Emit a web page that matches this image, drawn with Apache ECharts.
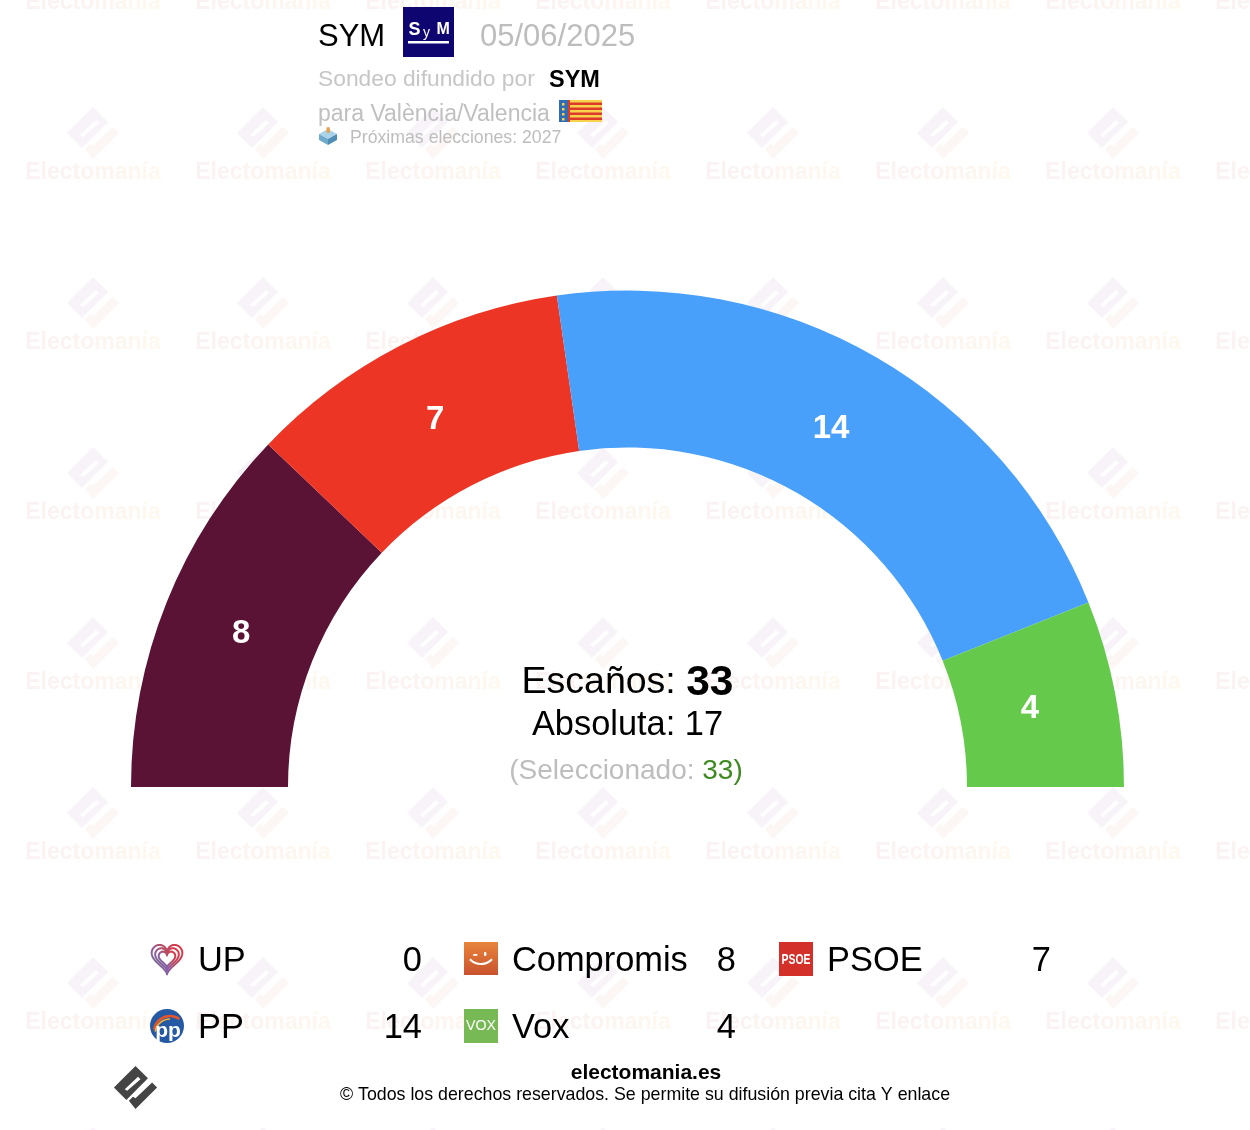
<!DOCTYPE html>
<html><head><meta charset="utf-8">
<style>html,body{margin:0;padding:0;background:#fff}#c{width:1250px;height:1130px}</style>
<script src="https://cdn.jsdelivr.net/npm/echarts@6/dist/echarts.min.js"></script>
</head><body><div id="c"></div>
<script>
const parties = ['UP','Compromis','PSOE','PP','Vox'];
const seats = [0,8,7,14,4];
const partyColors = ['#7b2d6b','#5a1335','#ec3524','#48a0fa','#65ca4c'];
const pollster = 'SYM';
const pollDate = '05/06/2025';
const totalSeats = 33;
const majority = 17;
const selected = 33;

const FONT = '"Liberation Sans", Helvetica, Arial, sans-serif';
const g = [];
const txt = (x,y,text,size,fill,opt={}) => Object.assign({type:'text',x,y,z:opt.z??5,style:Object.assign({text,fill,
  font:`${opt.bold?'bold ':''}${size}px ${opt.family||FONT}`,
  textAlign:opt.align||'left',textVerticalAlign:'middle',textBaseline:'middle'},opt.style||{})},opt.el||{});
const poly = (points,fill,z=1) => ({type:'polygon',z,shape:{points},style:{fill}});
const rect = (x,y,width,height,fill,z=5,r=0) => ({type:'rect',z,shape:{x,y,width,height,r},style:{fill}});

/* Electomania logo, unit origin = its centre */
function logo(cx,cy,s,cBody,cHook,cHole,z){
  const P = a => a.map(p=>[cx+p[0]*s,cy+p[1]*s]);
  g.push(poly(P([[0,-26],[15,-11],[-11,15],[-26,0]]),cBody,z));
  g.push(poly(P([[3,-13],[6,-10],[-10,4],[-13,2]]),cHole,z));
  g.push(poly(P([[-8,16],[0,26],[26,0],[20,-6],[0,13],[-3,11]]),cHook,z));
}
/* watermark tiles */
const wmWord = 'Electomanía';
const wmColors = ['#fbf3f3','#fbf3f2','#fbf3f2','#fbf3f1','#fcf4f1','#fcf4f0','#fdf5f0','#fdf6ef','#fef7ef','#fef7ee','#fff8ee'];
const wmRich = {};
wmColors.forEach((c,i)=>{wmRich['c'+i]={font:'bold 23px '+FONT,fill:c,color:c};});
const wmText = wmWord.split('').map((ch,i)=>'{c'+i+'|'+ch+'}').join('');
for(let i=0;i<8;i++)for(let j=-1;j<7;j++){
  const x=93+170*i, y=133+170*j;
  logo(x,y,1,'#f7f3f9','#fcf6f4','#ffffff',0);
  g.push({type:'text',x,y:y+40,z:0,style:{text:wmText,rich:wmRich,textAlign:'center',textVerticalAlign:'middle',textBaseline:'middle'}});
}
/* header */
g.push(txt(318,37.5,pollster,31,'#000'));
g.push(rect(403,7,51,50,'#0f0570'));
g.push(txt(408.5,30,'S',18,'#fff',{bold:true,z:6}));
g.push(txt(423,33,'y',14,'#fff',{z:6}));
g.push(txt(436.5,29.5,'M',16,'#fff',{bold:true,z:6}));
g.push(rect(408,41,41,2.5,'#fff',6));
g.push(txt(480,37.5,pollDate,31,'#bdbdbd'));
g.push(txt(318,80,'Sondeo difundido por',22.8,'#c6c6c6'));
g.push(txt(549,81,pollster,23.5,'#000',{bold:true}));
g.push(txt(318,115,'para València/Valencia',23,'#c0c0c0'));
g.push(rect(559,100,43,22,'#f8d24a'));
for(let k=0;k<4;k++) g.push(rect(568,102.5+k*5,34,2.4,'#dc3b2c',6));
g.push(rect(559,100,9,22,'#2f6db5',7));
g.push(rect(568,100,2,22,'#dc3b2c',7));
[103,108,113,118].forEach(y=>g.push(rect(562,y,2.5,2.5,'#f8d24a',8)));
g.push(poly([[328,129],[337,134],[328,139],[319,134]],'#a9d3e8',5));
g.push(poly([[319,134],[328,139],[328,145],[319,140]],'#6fa9cc',5));
g.push(poly([[337,134],[328,139],[328,145],[337,140]],'#4f8db5',5));
g.push(rect(326.5,127,3.4,6,'#e8a04c',6,1.5));
g.push(txt(350,138.5,'Próximas elecciones: 2027',17.7,'#bdbdbd'));

/* centre text */
g.push({type:'text',x:627.5,y:683,z:5,style:{text:'{a|Escaños: }{b|'+totalSeats+'}',textAlign:'center',textVerticalAlign:'middle',textBaseline:'middle',
  rich:{a:{font:'37.5px '+FONT,fill:'#000',color:'#000'},b:{font:'bold 42.5px '+FONT,fill:'#000',color:'#000'}}}});
g.push(txt(627.5,726,'Absoluta: '+majority,34.4,'#000',{align:'center'}));
g.push({type:'text',x:626,y:771,z:5,style:{text:'{a|(Seleccionado: }{b|'+selected+'}{c|)}',textAlign:'center',textVerticalAlign:'middle',textBaseline:'middle',
  rich:{a:{font:'28px '+FONT,fill:'#bdbdbd',color:'#bdbdbd'},b:{font:'28px '+FONT,fill:'#3f8a22',color:'#3f8a22'},c:{font:'28px '+FONT,fill:'#3f8a22',color:'#3f8a22'}}}});

/* legend icons */
const heartPts = (cx,cy,s)=>{const a=[];for(let i=0;i<60;i++){const t=i/60*2*Math.PI;
  a.push([cx+s*16*Math.pow(Math.sin(t),3),cy-s*1.06*(13*Math.cos(t)-5*Math.cos(2*t)-2*Math.cos(3*t)-Math.cos(4*t))]);}return a;};
const icons = [
 (x,y)=>{const gr2={type:'linear',x:0,y:1,x2:1,y2:.2,colorStops:[{offset:0,color:'#5fa84a'},{offset:.4,color:'#8a5aa8'},{offset:.62,color:'#b0506a'},{offset:1,color:'#e6323f'}]};
   [.96,.74,.52].forEach(s=>g.push({type:'polygon',z:5,shape:{points:heartPts(x,y+.5-2.6*s,s)},style:{fill:'none',stroke:gr2,lineWidth:2,lineJoin:'round'}}));},
 (x,y)=>{g.push({type:'rect',z:5,shape:{x:x-17,y:y-17,width:34,height:33},style:{fill:{type:'linear',x:0,y:0,x2:0,y2:1,colorStops:[{offset:0,color:'#e8843c'},{offset:1,color:'#c9522e'}]}}});
   g.push({type:'arc',z:6,shape:{cx:x,cy:y-10,r:15,startAngle:.75,endAngle:Math.PI-.75},style:{stroke:'#fff',lineWidth:2,fill:'none'}});
   g.push(rect(x-8,y-5,4.5,1.8,'#fff',6,1));g.push(rect(x+3,y-7,2.4,4,'#fff',6,1));},
 (x,y)=>{g.push(rect(x-17,y-17,34,34,'#d4302a'));g.push(txt(x,y+.5,'PSOE',14.5,'#fff',{bold:true,align:'center',z:6,el:{scaleX:.72}}));},
 (x,y)=>{g.push({type:'circle',z:5,shape:{cx:x,cy:y,r:17},style:{fill:'#2559a3'}});
   g.push({type:'arc',z:6,shape:{cx:x+3,cy:y+6,r:16,startAngle:Math.PI*1.05,endAngle:Math.PI*1.7},style:{stroke:'#e8552b',lineWidth:2.5,fill:'none'}});
   g.push({type:'arc',z:6,shape:{cx:x+3,cy:y+8,r:15,startAngle:Math.PI*1.05,endAngle:Math.PI*1.5},style:{stroke:'#f4b63a',lineWidth:1.5,fill:'none'}});
   g.push(txt(x+1,y+5,'pp',21,'#fff',{bold:true,align:'center',z:7}));},
 (x,y)=>{g.push(rect(x-17,y-17,34,34,'#77ba55'));g.push(txt(x,y,'VOX',15,'#fff',{align:'center',z:6,el:{scaleX:.95}}));}
];
const colX=[167,481,796], rowY=[959,1026];
parties.forEach((p,i)=>{
  const c=i%3, r=Math.floor(i/3), x=colX[c], y=rowY[r];
  icons[i](x,y);
  g.push(txt(x+31,y+3,p,34.4,'#000'));
  g.push(txt(x+255,y+3,String(seats[i]),34.4,'#000',{align:'right'}));
});
/* footer */
logo(135.5,1087.5,.83,'#444444','#444444','#ffffff',5);
g.push(txt(646,1073,'electomania.es',21,'#000',{bold:true,align:'center'}));
g.push(txt(645,1095,'© Todos los derechos reservados. Se permite su difusión previa cita Y enlace',17.8,'#000',{align:'center'}));

const pieBase = {type:'pie',silent:true,center:[627.5,787],startAngle:180,endAngle:0,clockwise:true,avoidLabelOverlap:false,labelLine:{show:false}};
const chart = echarts.init(document.getElementById('c'),null,{renderer:'canvas',width:1250,height:1130});
chart.setOption({
  animation:false,
  backgroundColor:'#fff',
  graphic:{elements:g},
  series:[
    Object.assign({},pieBase,{z:2,radius:[339.5,496.5],label:{show:false},itemStyle:{borderWidth:0},
      data:parties.map((name,i)=>({name,value:seats[i],itemStyle:{color:partyColors[i]}}))}),
    Object.assign({},pieBase,{z:3,radius:[331.5,488.5],itemStyle:{color:'rgba(0,0,0,0)',borderWidth:0},
      label:{show:true,position:'inside',color:'#fff',fontFamily:FONT,fontWeight:'bold',fontSize:33,padding:[4,6,0,0],
        formatter:p=>p.value>0?String(p.value):''},
      data:parties.map((name,i)=>({name,value:seats[i]}))})
  ]
});
</script></body></html>
